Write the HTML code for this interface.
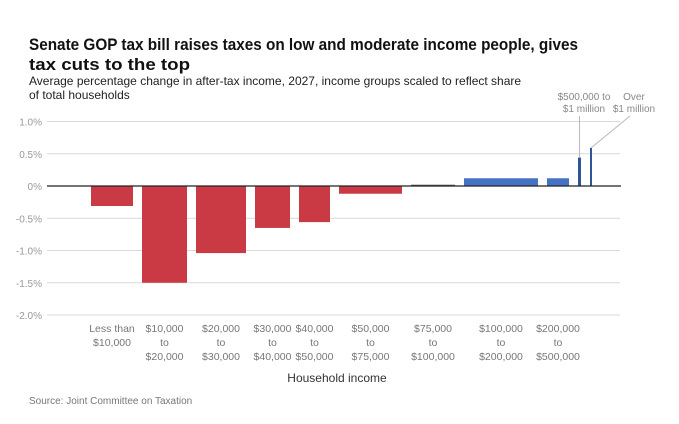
<!DOCTYPE html>
<html><head><meta charset="utf-8"><style>
body{margin:0;background:#fff;width:679px;height:424px;overflow:hidden;font-family:"Liberation Sans",sans-serif}
svg{position:absolute;left:0;top:0}
</style></head><body>
<svg id="c" width="679" height="424">
<text x="29" y="50" font-size="17" font-weight="bold" fill="#111" textLength="549" lengthAdjust="spacingAndGlyphs">Senate GOP tax bill raises taxes on low and moderate income people, gives</text>
<text x="29" y="70" font-size="17" font-weight="bold" fill="#111" textLength="161" lengthAdjust="spacingAndGlyphs">tax cuts to the top</text>
<text x="29" y="85" font-size="12" fill="#222">Average percentage change in after-tax income, 2027, income groups scaled to reflect share</text>
<text x="29" y="99" font-size="12" fill="#222">of total households</text>
<text x="337" y="382" font-size="12" fill="#333" text-anchor="middle">Household income</text>
<text x="29" y="404" font-size="10" fill="#777">Source: Joint Committee on Taxation</text>
<text x="584" y="100" font-size="10" fill="#888" text-anchor="middle">$500,000 to</text>
<text x="584" y="112" font-size="10" fill="#888" text-anchor="middle">$1 million</text>
<text x="634" y="100" font-size="10" fill="#888" text-anchor="middle">Over</text>
<text x="634" y="112" font-size="10" fill="#888" text-anchor="middle">$1 million</text>
</svg>
<script>
const yTicks=[1.0,0.5,0,-0.5,-1.0,-1.5,-2.0];
const yTickLabels=["1.0%","0.5%","0%","-0.5%","-1.0%","-1.5%","-2.0%"];
const categories=[["Less than","$10,000"],["$10,000","to","$20,000"],["$20,000","to","$30,000"],["$30,000","to","$40,000"],["$40,000","to","$50,000"],["$50,000","to","$75,000"],["$75,000","to","$100,000"],["$100,000","to","$200,000"],["$200,000","to","$500,000"],[],[]];
const values=[-0.31,-1.5,-1.04,-0.65,-0.56,-0.12,0.02,0.12,0.12,0.44,0.59];
const households=[42,45,50,35,31,63,44,74,22,3,2];
const svg=document.getElementById('c');const NS='http://www.w3.org/2000/svg';
function y(v){return 186-v*64.5;}
function mk(t,a){const e=document.createElementNS(NS,t);for(const k in a)e.setAttribute(k,a[k]);svg.appendChild(e);return e;}
yTicks.forEach((t,i)=>{
 if(t!==0){const g=mk('line',{x1:47,x2:620,y1:y(t),y2:y(t),stroke:'#d9d9d9','stroke-width':1});
 
 }
 const l=mk('text',{x:42,y:y(t)+4,'font-size':10,fill:'#999','text-anchor':'end'});l.textContent=yTickLabels[i];
 
 
});
const gap=9;let x=91;
values.forEach((v,i)=>{
 const w=households[i];
 const r=mk('rect',{x:x,y:Math.min(y(v),y(0)),width:w,height:Math.max(Math.abs(y(v)-y(0)),1),fill:v<0?'#c93a45':(i===6?'#555':(i>=9?'#2f5597':'#4472c4'))});
 
 
 const cx=x+w/2;
 categories[i].forEach((s,j)=>{const t=mk('text',{x:cx,y:332+j*14,'font-size':10.5,fill:'#777','text-anchor':'middle'});t.textContent=s;
 
 });
 if(i===9){const l=mk('line',{x1:cx,x2:cx,y1:y(v),y2:116,stroke:'#bbb'});}
 if(i===10){const l=mk('line',{x1:cx,x2:630,y1:y(v),y2:116,stroke:'#bbb'});}
 x+=w+gap;
});
const z=mk('line',{x1:47,x2:621,y1:y(0),y2:y(0),stroke:'#222','stroke-width':1.2});


</script>
</body></html>
